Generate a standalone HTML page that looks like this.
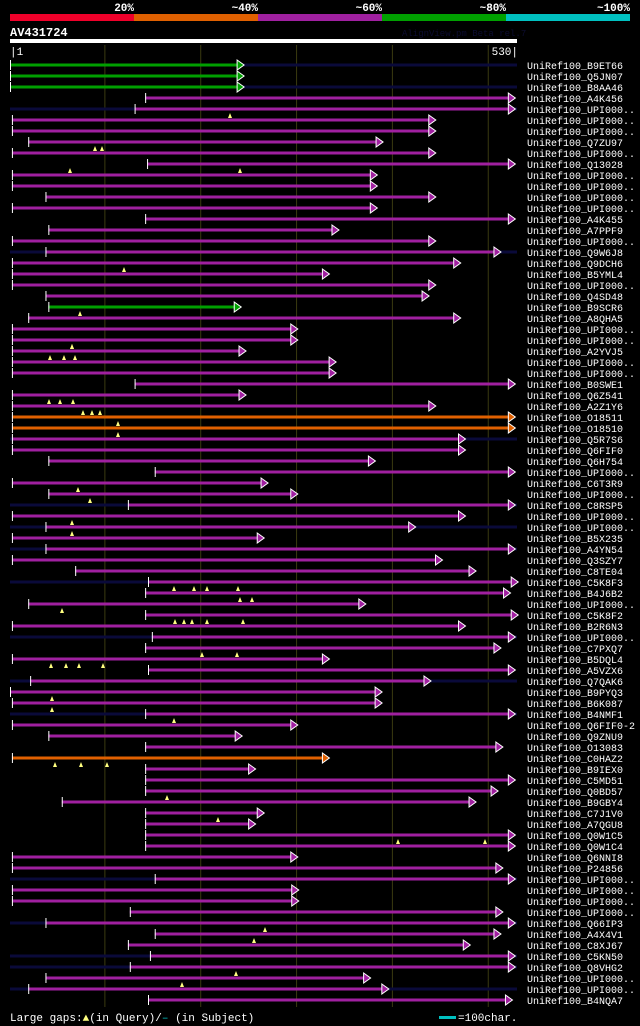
<!DOCTYPE html>
<html><head><meta charset="utf-8"><style>
html,body{margin:0;padding:0;background:#000;}
svg{display:block;font-family:"Liberation Mono","DejaVu Sans Mono",monospace;}
</style></head><body>
<svg id="chart" width="640" height="1026" viewBox="0 0 640 1026" xmlns="http://www.w3.org/2000/svg">
<rect width="640" height="1026" fill="#000"/>
<g id="top">
<rect x="10" y="14" width="124" height="7" fill="#f0002a"/>
<rect x="134" y="14" width="124" height="7" fill="#e06000"/>
<rect x="258" y="14" width="124" height="7" fill="#a020a0"/>
<rect x="382" y="14" width="124" height="7" fill="#00a000"/>
<rect x="506" y="14" width="124" height="7" fill="#00c0c0"/>
<g fill="#fff" font-size="11" font-weight="bold" text-anchor="end">
<text x="134" y="11">20%</text>
<text x="258" y="11">~40%</text>
<text x="382" y="11">~60%</text>
<text x="506" y="11">~80%</text>
<text x="630" y="11">~100%</text>
</g>
</g>
<text x="10" y="36" fill="#fff" font-size="12" font-weight="bold">AV431724</text>
<text x="402" y="36" fill="#0c0c30" font-size="9">AlignView.pm Beta rel.7</text>
<rect x="10" y="39" width="507" height="4" fill="#fff"/>
<text x="10" y="55" fill="#fff" font-size="11">|1</text>
<text x="518" y="55" fill="#fff" font-size="11" text-anchor="end">530|</text>
<g id="grid"></g>
<g id="rows"></g>
<g>
<text x="10" y="1021" fill="#fff" font-size="11">Large gaps:<tspan fill="#ffff80">▲</tspan>(in Query)/<tspan fill="#00c0c0">–</tspan> (in Subject)</text>
<rect x="439" y="1016" width="17" height="3" fill="#00c0c0"/>
<text x="458" y="1021" fill="#fff" font-size="11">=100char.</text>
</g>
</svg>
<script>
const gridTicks=[100,200,300,400,500];
const names=["B9ET66","Q5JN07","B8AA46","A4K456","UPI000..","UPI000..","UPI000..","Q7ZU97","UPI000..","Q13028","UPI000..","UPI000..","UPI000..","UPI000..","A4K455","A7PPF9","UPI000..","Q9W6J8","Q9DCH6","B5YML4","UPI000..","Q4SD48","B9SCR6","A8QHA5","UPI000..","UPI000..","A2YVJ5","UPI000..","UPI000..","B0SWE1","Q6Z541","A2Z1Y6","O18511","O18510","Q5R7S6","Q6FIF0","Q6H754","UPI000..","C6T3R9","UPI000..","C8RSP5","UPI000..","UPI000..","B5X235","A4YN54","Q3SZY7","C8TE04","C5K8F3","B4J6B2","UPI000..","C5K8F2","B2R6N3","UPI000..","C7PXQ7","B5DQL4","A5VZX6","Q7QAK6","B9PYQ3","B6K087","B4NMF1","Q6FIF0-2","Q9ZNU9","O13083","C0HAZ2","B9IEX0","C5MD51","Q0BD57","B9GBY4","C7J1V0","A7QGU8","Q0W1C5","Q0W1C4","Q6NNI8","P24856","UPI000..","UPI000..","UPI000..","UPI000..","Q66IP3","A4X4V1","C8XJ67","C5KN50","Q8VHG2","UPI000..","UPI000..","B4NQA7"];
const starts=[1,1,1,142,131,3,3,20,3,144,3,3,38,3,142,41,3,38,3,3,3,38,41,20,3,3,3,3,3,131,3,3,3,3,3,3,41,152,3,41,124,3,38,3,38,3,69,145,142,20,142,3,149,142,3,145,22,1,3,142,3,41,142,3,142,142,142,55,142,142,142,142,3,3,152,3,3,126,38,152,124,147,126,38,20,145];
const ends=[239,239,239,522,522,439,439,384,439,522,378,378,439,378,522,338,439,507,465,328,439,432,236,465,295,295,241,335,335,522,241,439,522,522,470,470,376,522,264,295,522,470,418,260,522,446,481,525,517,366,525,470,522,507,328,522,434,383,383,522,295,237,509,328,251,522,504,481,260,251,522,522,295,509,522,296,296,509,522,507,475,522,522,371,390,519];
const colorCodes="GGGMMMMMMMMMMMMMMMMMMMGMMMMMMMMMOOMMMMMMMMMMMMMMMMMMMMMMMMMMMMMOMMMMMMMMMMMMMMMMMMMMMM";
const navyRows=[1,3,5,18,35,41,43,45,48,53,57,60,75,79,82,83,85];
const gapRows=[5,10,10,8,8,19,23,26,27,27,27,26,31,31,31,32,32,32,33,34,39,40,42,43,48,48,48,48,49,49,50,51,51,51,51,51,54,54,55,55,55,55,58,59,60,64,64,64,67,69,71,71,79,80,83,84];
const gapPos=[230,70,240,95,102,124,80,72,50,64,75,72,49,60,73,83,92,100,118,118,78,90,72,72,174,194,207,238,240,252,62,175,184,192,207,243,202,237,51,66,79,103,52,52,174,55,81,107,167,218,398,485,265,254,236,182];
const COL={G:"#00a000",M:"#a020a0",O:"#e06000"};
const svgNS="http://www.w3.org/2000/svg";
const X=r=>10+(r-1)/529*507;
const Y=i=>65+i*11;
function mk(tag,attrs,parent){const e=document.createElementNS(svgNS,tag);for(const k in attrs)e.setAttribute(k,attrs[k]);parent.appendChild(e);return e;}
const grid=document.getElementById('grid');
gridTicks.forEach(t=>{
  const l=mk('line',{x1:X(t),x2:X(t),y1:45,y2:1007,stroke:'#3a3a10','stroke-width':1},grid);
  
  
});
const rows=document.getElementById('rows');
names.forEach((n,i)=>{
  const g=mk('g',{},rows);
  
  
  const y=Y(i);
  if(navyRows.includes(i+1)){
    const nv=mk('rect',{x:10,y:y-1.5,width:507,height:3,fill:'#0a0a3a'},g);
    
    
  }
  const c=COL[colorCodes[i]];
  const x1=X(starts[i]),x2=X(ends[i]);
  const b=mk('rect',{x:x1,y:y-1.5,width:x2-x1,height:3,fill:c},g);
  
  
  const t=mk('line',{x1:x1+0.5,x2:x1+0.5,y1:y-5,y2:y+5,stroke:'#fff','stroke-width':1},g);
  
  
  const a=mk('polygon',{points:`${x2-1},${y-5} ${x2+6},${y} ${x2-1},${y+5}`,fill:c,stroke:'#fff','stroke-width':1},g);
  
  
  const lab=mk('text',{x:527,y:y+4,fill:'#fff','font-size':10},g);
  lab.textContent='UniRef100_'+n;
  
  
});
gapRows.forEach((r,k)=>{
  const y=Y(r-1)+4,x=gapPos[k];
  const m=mk('polygon',{points:`${x-2},${y+5} ${x},${y} ${x+2},${y+5}`,fill:'#ffff80'},rows);
  
  
});
</script>
</body></html>
